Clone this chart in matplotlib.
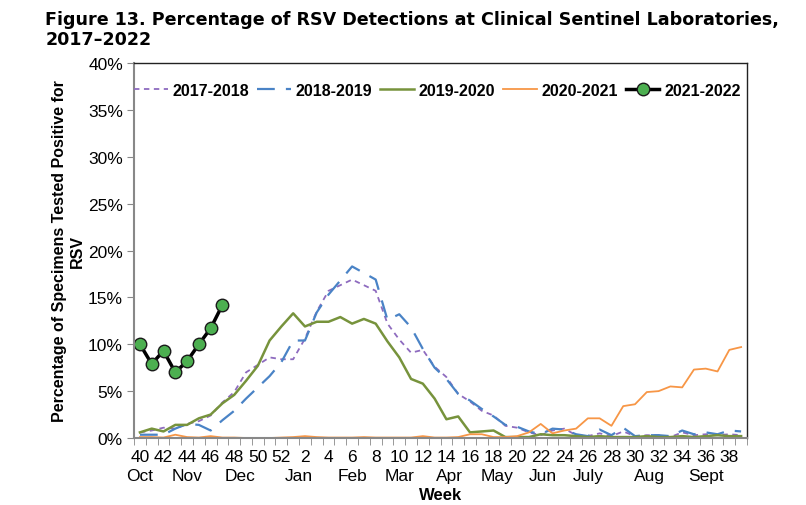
import numpy as np
import matplotlib
matplotlib.use('Agg')
import matplotlib.pyplot as plt
from matplotlib.ticker import FixedLocator, FuncFormatter
import matplotlib.transforms as mtransforms

plt.rcParams['font.family'] = ['Liberation Sans', 'DejaVu Sans']

# weeks of the season, week 40 through week 39
weeks = list(range(40, 53)) + list(range(1, 40))

s2017 = [0.6, 0.8, 1.1, 1.0, 1.5, 1.8, 2.4, 3.8, 4.9, 7.0, 7.8, 8.6, 8.4,
         8.4, 10.6, 13.5, 15.7, 16.3, 16.9, 16.3, 15.7, 12.2, 10.5, 9.1, 9.4, 7.6,
         6.5, 4.7, 3.9, 2.9, 2.4, 1.3, 1.1, 0.6, 0.3, 0.8, 1.0, 0.3, 0.2,
         0.5, 0.2, 0.7, 0.2, 0.3, 0.3, 0.1, 0.6, 0.3, 0.4, 0.3, 0.4, 0.3]
s2018 = [0.35, 0.35, 0.35, 1.0, 1.5, 1.4, 0.8, 1.9, 2.9, 4.2, 5.4, 6.6, 8.1,
         10.4, 10.4, 13.4, 15.3, 16.8, 18.3, 17.6, 16.9, 12.6, 13.2, 11.8, 9.5, 7.5,
         6.3, 4.7, 4.0, 3.1, 2.3, 1.4, 1.2, 0.7, 0.4, 1.0, 0.9, 0.4, 0.2,
         0.9, 0.3, 1.1, 0.2, 0.3, 0.3, 0.2, 0.8, 0.4, 0.6, 0.4, 0.8, 0.7]
s2019 = [0.6, 1.0, 0.7, 1.4, 1.4, 2.1, 2.5, 3.7, 4.6, 6.1, 7.7, 10.4, 11.9,
         13.3, 11.9, 12.4, 12.4, 12.9, 12.2, 12.7, 12.2, 10.3, 8.6, 6.3, 5.8, 4.2,
         2.0, 2.3, 0.6, 0.7, 0.8, 0.1, 0.1, 0.1, 0.4, 0.3, 0.3, 0.2, 0.1,
         0.2, 0.1, 0.1, 0.1, 0.2, 0.1, 0.1, 0.2, 0.1, 0.2, 0.3, 0.2, 0.2]
s2020 = [0.1, 0.1, 0.05, 0.35, 0.1, 0.05, 0.2, 0.05, 0.05, 0.0, 0.0, 0.0, 0.05,
         0.1, 0.2, 0.1, 0.05, 0.05, 0.05, 0.1, 0.05, 0.05, 0.05, 0.05, 0.2, 0.05,
         0.05, 0.1, 0.4, 0.4, 0.1, 0.1, 0.2, 0.6, 1.5, 0.5, 0.8, 1.0, 2.1,
         2.1, 1.3, 3.4, 3.6, 4.9, 5.0, 5.5, 5.4, 7.3, 7.4, 7.1, 9.4, 9.7]
s2021 = [10.0, 7.9, 9.3, 7.0, 8.2, 10.0, 11.7, 14.2]

months = ['Oct', 'Nov', 'Dec', 'Jan', 'Feb', 'Mar', 'Apr', 'May', 'Jun',
          'July', 'Aug', 'Sept']
month_pos = [0, 4, 8.5, 13.5, 18, 22, 26.3, 30.3, 34.2, 38, 43.2, 48]

fig = plt.figure(figsize=(8.06, 5.06), dpi=100)
ax = fig.add_axes([0.1663, 0.1324, 0.7605, 0.7411])

x = np.arange(len(weeks))
ax.plot(x, s2017, color='#8E6BBF', lw=1.3, dashes=(3, 2.5), label='2017-2018')
ax.plot(x, s2018, color='#4A83C6', lw=1.6, dashes=(8, 5), label='2018-2019')
ax.plot(x, s2019, color='#77933C', lw=1.8, label='2019-2020')
ax.plot(x, s2020, color='#F79646', lw=1.3, label='2020-2021')
ax.plot(x[:len(s2021)], s2021, color='black', lw=2.5, marker='o', ms=9,
        mfc='#4CAF50', mec='#1a1a1a', mew=1.0, label='2021-2022')

ax.set_xlim(-0.5, 51.5)
ax.set_ylim(0, 40)

ax.yaxis.set_major_locator(FixedLocator(range(0, 41, 5)))
ax.yaxis.set_major_formatter(FuncFormatter(lambda v, p: '%d%%' % v))
ax.tick_params(axis='y', direction='out', length=5, color='#888888',
               labelsize=12.5, pad=3)

ax.set_xticks(x[::2])
ax.set_xticklabels([str(w) for w in weeks[::2]])
ax.set_xticks(np.arange(-0.5, 52, 1), minor=True)
ax.tick_params(axis='x', which='major', length=0, labelsize=12.5, pad=8)
ax.tick_params(axis='x', which='minor', direction='out', length=5,
               color='#888888')

trans = mtransforms.blended_transform_factory(ax.transData, ax.transAxes)
for m, p in zip(months, month_pos):
    ax.text(p, -0.100, m, transform=trans, ha='center', va='center',
            fontsize=12.5)

ax.text(0.5, -0.150, 'Week', transform=ax.transAxes, ha='center',
        va='center', fontsize=12, fontweight='bold')

ax.set_ylabel('Percentage of Specimens Tested Positive for\nRSV',
              fontsize=11.5, fontweight='bold', labelpad=2, linespacing=1.3)

for side in ['left', 'bottom']:
    ax.spines[side].set_color('#888888')
    ax.spines[side].set_linewidth(1.5)
for side in ['top', 'right']:
    ax.spines[side].set_color('#222222')
    ax.spines[side].set_linewidth(1.0)

leg = ax.legend(loc='upper center', bbox_to_anchor=(0.495, 0.985), ncol=5,
                frameon=False, handlelength=2.1, handletextpad=0.3,
                columnspacing=0.5, prop={'weight': 'bold', 'size': 11.5})

fig.text(0.056, 0.978,
         'Figure 13. Percentage of RSV Detections at Clinical Sentinel Laboratories,\n2017\u20132022',
         fontfamily='DejaVu Sans', fontweight='bold', fontsize=12.6,
         ha='left', va='top', linespacing=1.12)

fig.savefig('out.png', dpi=100)
